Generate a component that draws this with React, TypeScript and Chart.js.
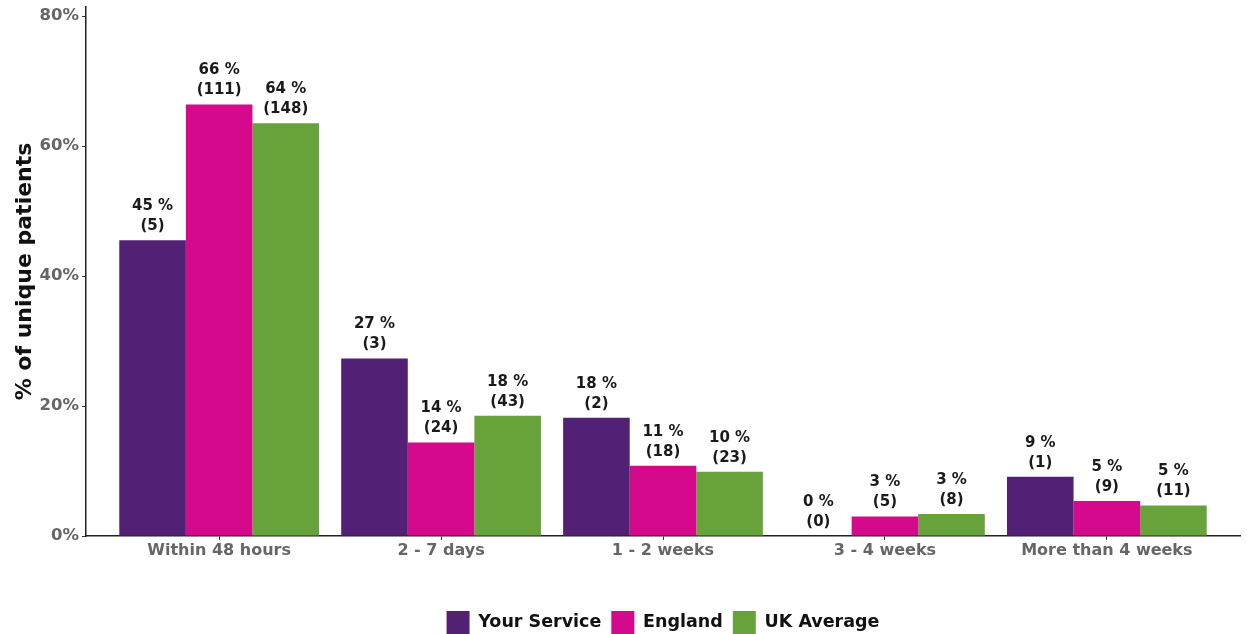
import React, { useEffect, useRef } from "react";
import { Chart, registerables } from "chart.js";

Chart.register(...registerables);

const categories = ["Within 48 hours", "2 - 7 days", "1 - 2 weeks", "3 - 4 weeks", "More than 4 weeks"];
const seriesNames = ["Your Service", "England", "UK Average"];
const seriesColors = ["#522176", "#d4098c", "#67a23a"];

const yourServiceValues = [45.5, 27.3, 18.2, 0, 9.1];
const englandValues = [66.4, 14.4, 10.8, 3.0, 5.4];
const ukValues = [63.5, 18.5, 9.9, 3.4, 4.7];

const yourServicePctLabels = [45, 27, 18, 0, 9];
const englandPctLabels = [66, 14, 11, 3, 5];
const ukPctLabels = [64, 18, 10, 3, 5];

const yourServiceCounts = [5, 3, 2, 0, 1];
const englandCounts = [111, 24, 18, 5, 9];
const ukCounts = [148, 43, 23, 8, 11];

const yTicks = [0, 20, 40, 60, 80];

const FONT = "'DejaVu Sans', 'Open Sans', sans-serif";
const CANVAS_W = 1247;
const CANVAS_H = 644;
const PLOT_BOTTOM = 536;
const LEGEND_BOX = 23;
const LEGEND_PAD = 10;

export default function App() {
  const ref = useRef<HTMLCanvasElement | null>(null);

  useEffect(() => {
    document.body.style.margin = "0";
    document.body.style.overflow = "hidden";
    const canvas = ref.current;
    if (!canvas) return;

    const values = [yourServiceValues, englandValues, ukValues];
    const pcts = [yourServicePctLabels, englandPctLabels, ukPctLabels];
    const counts = [yourServiceCounts, englandCounts, ukCounts];

    const labelPlugin = {
      id: "barLabels",
      afterDatasetsDraw(chart: any) {
        const ctx = chart.ctx;
        ctx.save();
        ctx.font = `bold 15px ${FONT}`;
        ctx.fillStyle = "#1a1a1a";
        ctx.textAlign = "center";
        ctx.textBaseline = "middle";
        chart.data.datasets.forEach((ds: any, di: number) => {
          const meta = chart.getDatasetMeta(di);
          meta.data.forEach((bar: any, i: number) => {
            ctx.fillText(`${pcts[di][i]} %`, bar.x, bar.y - 34);
            ctx.fillText(`(${counts[di][i]})`, bar.x, bar.y - 14);
          });
        });
        ctx.restore();
      },
    };

    const chart = new Chart(canvas, {
      type: "bar",
      data: {
        datasets: seriesNames.map((name, di) => ({
          label: name,
          data: values[di].map((v, i) => ({ x: i, y: v })),
          backgroundColor: seriesColors[di],
          borderWidth: 0,
          categoryPercentage: 0.9,
          barPercentage: 1.0,
        })),
      },
      options: {
        animation: false,
        responsive: false,
        maintainAspectRatio: false,
        layout: { padding: { top: 7, right: 7, bottom: 0, left: 0 } },
        plugins: {
          tooltip: { enabled: false },
          legend: {
            position: "bottom",
            fullSize: false,
            labels: {
              boxWidth: LEGEND_BOX,
              boxHeight: LEGEND_BOX,
              padding: LEGEND_PAD,
              color: "#111",
              font: { family: FONT, size: 17.5, weight: "bold" },
            },
          },
        },
        scales: {
          x: {
            type: "linear",
            min: -0.6,
            max: 4.6,
            offset: false,
            grid: { offset: false, drawOnChartArea: false, drawTicks: true, tickLength: 4, color: "#333" },
            border: { color: "#222", width: 1.5 },
            afterBuildTicks: (scale: any) => {
              scale.ticks = categories.map((_, i) => ({ value: i }));
            },
            afterFit: (scale: any) => {
              const legendH = LEGEND_BOX + LEGEND_PAD + 10;
              scale.height = CANVAS_H - PLOT_BOTTOM - legendH;
              scale.paddingLeft = 0;
              scale.paddingRight = 0;
            },
            ticks: {
              autoSkip: false,
              maxRotation: 0,
              padding: 1,
              color: "#666",
              font: { family: FONT, size: 16, weight: "bold" },
              callback: (v: any) => categories[Math.round(Number(v))] ?? "",
            },
          },
          y: {
            min: 0,
            max: 81.4,
            grid: { drawOnChartArea: false, drawTicks: true, tickLength: 4, color: "#333" },
            border: { color: "#222", width: 1.5 },
            afterBuildTicks: (scale: any) => {
              scale.ticks = yTicks.map((v) => ({ value: v }));
            },
            afterFit: (scale: any) => {
              scale.width = 86;
              scale.paddingTop = 0;
              scale.paddingBottom = 0;
            },
            ticks: {
              padding: 3,
              color: "#666",
              font: { family: FONT, size: 16.5, weight: "bold" },
              callback: (v: any) => `${v}%`,
            },
            title: {
              display: true,
              text: "% of unique patients",
              color: "#111",
              padding: { top: 12, bottom: 0 },
              font: { family: FONT, size: 22, weight: "bold" },
            },
          },
        },
      },
      plugins: [labelPlugin],
    } as any);

    return () => chart.destroy();
  }, []);

  return (
    <div style={{ width: CANVAS_W, height: 634, overflow: "hidden", position: "relative" }}>
      <canvas ref={ref} width={CANVAS_W} height={CANVAS_H} style={{ width: CANVAS_W, height: CANVAS_H, display: "block" }} />
    </div>
  );
}
